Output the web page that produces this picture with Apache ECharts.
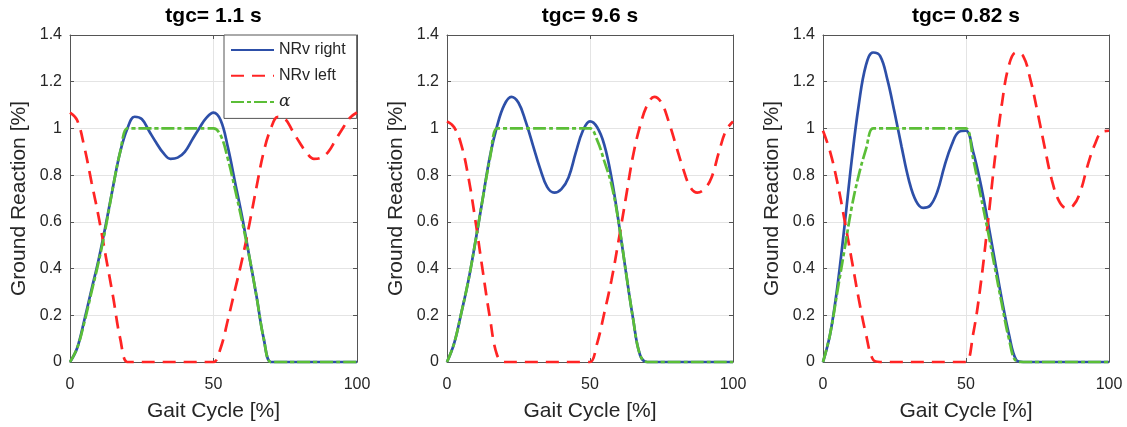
<!DOCTYPE html>
<html>
<head>
<meta charset="utf-8">
<script src="https://cdn.jsdelivr.net/npm/echarts@6/dist/echarts.min.js"></script>
<style>
html,body{margin:0;padding:0;background:#fff;}
#c{width:1127px;height:427px;}
</style>
</head>
<body>
<div id="c"></div>
<script>
// Gait cycle sample points [%]
var gaitX = [0,2.5,5,7.5,10,12.5,15,17.5,20,22.5,25,27.5,30,32.5,35,37.5,40,42.5,45,47.5,50,52.5,55,57.5,60,62.5,65,67.5,70,72.5,75,77.5,80,82.5,85,87.5,90,92.5,95,97.5,100];

var panelTitles = ['tgc= 1.1 s', 'tgc= 9.6 s', 'tgc= 0.82 s'];
var seriesNames = ['NRv right', 'NRv left', 'α'];
var xTicks = [0, 50, 100];
var yTicks = [0, 0.2, 0.4, 0.6, 0.8, 1, 1.2, 1.4];

// Panel 1 (tgc = 1.1 s)
var right1 = [0,0.06,0.18,0.31,0.44,0.59,0.75,0.9,1.0,1.05,1.04,0.99,0.94,0.895,0.87,0.875,0.9,0.95,1.0,1.045,1.068,1.035,0.92,0.77,0.62,0.45,0.28,0.1,0,0,0,0,0,0,0,0,0,0,0,0,0];
var left1  = [1.068,1.035,0.92,0.77,0.62,0.45,0.28,0.1,0,0,0,0,0,0,0,0,0,0,0,0,0,0.06,0.18,0.31,0.44,0.59,0.75,0.9,1.0,1.05,1.04,0.99,0.94,0.895,0.87,0.875,0.9,0.95,1.0,1.045,1.068];
var alpha1 = [0,0.06,0.17,0.3,0.43,0.58,0.75,0.9,1,1,1,1,1,1,1,1,1,1,1,1,1,0.97,0.87,0.74,0.6,0.45,0.28,0.1,0,0,0,0,0,0,0,0,0,0,0,0,0];

// Panel 2 (tgc = 9.6 s)
var right2 = [0,0.08,0.21,0.35,0.52,0.7,0.88,1.01,1.1,1.135,1.11,1.03,0.93,0.83,0.75,0.725,0.74,0.79,0.895,0.99,1.03,1.005,0.93,0.79,0.6,0.39,0.19,0.03,0,0,0,0,0,0,0,0,0,0,0,0,0];
var left2  = [1.03,1.005,0.93,0.79,0.6,0.39,0.19,0.03,0,0,0,0,0,0,0,0,0,0,0,0,0,0.08,0.21,0.35,0.52,0.7,0.88,1.01,1.1,1.135,1.11,1.03,0.93,0.83,0.75,0.725,0.74,0.79,0.895,0.99,1.03];
var alpha2 = [0,0.08,0.21,0.35,0.52,0.7,0.87,1,1,1,1,1,1,1,1,1,1,1,1,1,1,0.95,0.86,0.76,0.6,0.39,0.19,0.03,0,0,0,0,0,0,0,0,0,0,0,0,0];

// Panel 3 (tgc = 0.82 s)
var right3 = [0,0.12,0.32,0.58,0.86,1.1,1.27,1.325,1.31,1.21,1.07,0.92,0.78,0.69,0.66,0.67,0.73,0.84,0.93,0.985,0.99,0.9,0.77,0.61,0.44,0.27,0.12,0.01,0,0,0,0,0,0,0,0,0,0,0,0,0];
var left3  = [0.99,0.9,0.77,0.61,0.44,0.27,0.12,0.01,0,0,0,0,0,0,0,0,0,0,0,0,0,0.12,0.32,0.58,0.86,1.1,1.27,1.325,1.31,1.21,1.07,0.92,0.78,0.69,0.66,0.67,0.73,0.84,0.93,0.985,0.99];
var alpha3 = [0,0.12,0.3,0.48,0.66,0.8,0.91,1,1,1,1,1,1,1,1,1,1,1,1,1,1,0.87,0.72,0.57,0.41,0.25,0.1,0.005,0,0,0,0,0,0,0,0,0,0,0,0,0];

var panels = [[right1,left1,alpha1],[right2,left2,alpha2],[right3,left3,alpha3]];

var FONT = 'Liberation Sans, Arial, Helvetica, sans-serif';
var AX = '#555555';
var TXT = '#262626';
var GRID = '#e4e4e4';
var colors = ['#2D4FA8', '#FF2424', '#5BBE37'];
var dashes = ['solid', [13, 8], [13, 3, 4, 3]];

var grids = [
  {left: 70, top: 35, width: 287, height: 328},
  {left: 447, top: 35, width: 286, height: 328},
  {left: 823, top: 35, width: 286, height: 328}
];

var option = {
  animation: false,
  backgroundColor: '#ffffff',
  textStyle: {fontFamily: FONT},
  title: [],
  grid: [],
  xAxis: [],
  yAxis: [],
  series: [],
  legend: {
    orient: 'vertical',
    left: 224,
    top: 35,
    data: seriesNames,
    itemWidth: 43,
    itemHeight: 14,
    itemGap: 9.7,
    padding: [7, 11, 8, 6],
    borderColor: '#555',
    borderWidth: 1,
    borderRadius: 0,
    backgroundColor: '#ffffff',
    selectedMode: false,
    itemStyle: {opacity: 0},
    textStyle: {fontSize: 16, color: TXT, fontFamily: FONT,
      rich: {g: {fontFamily: 'DejaVu Serif, Liberation Serif, serif', fontStyle: 'italic', fontSize: 17, color: TXT}}},
    formatter: function (n) { return n === 'α' ? '{g|α}' : n; }
  }
};

grids.forEach(function (g, p) {
  option.grid.push({left: g.left, top: g.top, width: g.width, height: g.height, containLabel: false});
  option.title.push({
    text: panelTitles[p],
    left: g.left + g.width / 2,
    top: 6,
    textAlign: 'center',
    padding: 0,
    textStyle: {fontSize: 21, fontWeight: 'bold', color: '#000', fontFamily: FONT}
  });
  option.xAxis.push({
    type: 'value', gridIndex: p, min: xTicks[0], max: xTicks[xTicks.length - 1], interval: xTicks[1] - xTicks[0],
    name: 'Gait Cycle [%]', nameLocation: 'middle', nameGap: 39,
    nameTextStyle: {fontSize: 21, color: TXT, fontFamily: FONT},
    axisLine: {show: true, onZero: false, lineStyle: {color: AX, width: 1}},
    axisTick: {show: true, inside: true, length: 4, lineStyle: {color: AX}},
    axisLabel: {fontSize: 16, color: TXT, margin: 15, fontFamily: FONT},
    splitLine: {show: true, lineStyle: {color: GRID, width: 1}}
  });
  option.xAxis.push({
    type: 'value', gridIndex: p, position: 'top', min: xTicks[0], max: xTicks[xTicks.length - 1], interval: xTicks[1] - xTicks[0],
    axisLine: {show: true, onZero: false, lineStyle: {color: AX, width: 1}},
    axisTick: {show: true, inside: true, length: 4, lineStyle: {color: AX}},
    axisLabel: {show: false}, splitLine: {show: false}
  });
  option.yAxis.push({
    type: 'value', gridIndex: p, min: yTicks[0], max: yTicks[yTicks.length - 1], interval: 0.2,
    name: 'Ground Reaction [%]', nameLocation: 'middle', nameGap: 40, nameRotate: 90,
    nameTextStyle: {fontSize: 21, color: TXT, fontFamily: FONT},
    axisLine: {show: true, onZero: false, lineStyle: {color: AX, width: 1}},
    axisTick: {show: true, inside: true, length: 4, lineStyle: {color: AX}},
    axisLabel: {fontSize: 16, color: TXT, margin: 8, fontFamily: FONT,
      formatter: function (v) { return String(Math.round(v * 10) / 10); }},
    splitLine: {show: true, lineStyle: {color: GRID, width: 1}}
  });
  option.yAxis.push({
    type: 'value', gridIndex: p, position: 'right', min: yTicks[0], max: yTicks[yTicks.length - 1], interval: 0.2,
    axisLine: {show: true, onZero: false, lineStyle: {color: AX, width: 1}},
    axisTick: {show: true, inside: true, length: 4, lineStyle: {color: AX}},
    axisLabel: {show: false}, splitLine: {show: false}
  });
  panels[p].forEach(function (arr, s) {
    option.series.push({
      type: 'line',
      name: seriesNames[s],
      xAxisIndex: p * 2,
      yAxisIndex: p * 2,
      data: gaitX.map(function (x, i) { return [x, arr[i]]; }),
      showSymbol: false,
      symbol: 'none',
      smooth: 0.4,
      clip: false,
      z: 3 + s,
      lineStyle: {color: colors[s], width: 2.7, type: dashes[s], cap: 'butt'},
      itemStyle: {color: colors[s]}
    });
  });
});

var chart = echarts.init(document.getElementById('c'), null, {renderer: 'canvas'});
chart.setOption(option);
</script>
</body>
</html>
